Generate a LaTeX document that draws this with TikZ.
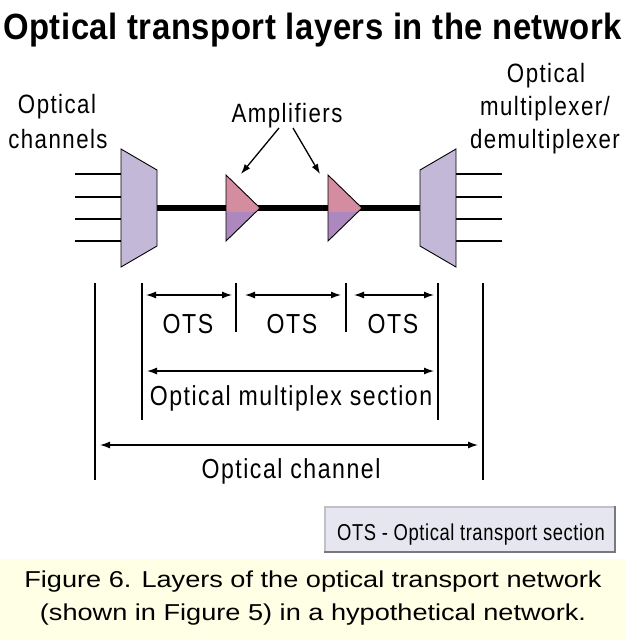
\documentclass[tikz,border=0pt]{standalone}
\usepackage{fontspec}
\setmainfont{Liberation Sans}
\newfontfamily\lblfont[FakeStretch=0.84,LetterSpace=5.5]{Liberation Sans}
\newfontfamily\ttlfont[FakeStretch=0.9,LetterSpace=1.5]{Liberation Sans Bold}
\newfontfamily\legfont[FakeStretch=0.8,LetterSpace=2.5]{Liberation Sans}
\newfontfamily\capfont[FakeStretch=1.18]{Liberation Sans}
\usetikzlibrary{arrows.meta}
\definecolor{muxfill}{RGB}{196,184,216}
\definecolor{amptop}{RGB}{212,140,160}
\definecolor{ampbot}{RGB}{172,136,190}
\definecolor{capbg}{RGB}{255,255,230}
\definecolor{legfill}{RGB}{230,230,240}
\definecolor{legedge}{RGB}{150,150,160}
\begin{document}
\begin{tikzpicture}[x=1pt,y=-1pt,
  lbl/.style={inner sep=0pt, anchor=base, font=\lblfont\fontsize{26.5}{30}\selectfont},
  dimlbl/.style={inner sep=0pt, anchor=base, font=\lblfont\fontsize{27.5}{30}\selectfont},
  ttl/.style={inner sep=0pt, anchor=base, font=\ttlfont\fontsize{36.5}{40}\selectfont},
  caplbl/.style={inner sep=0pt, anchor=base, font=\capfont\fontsize{23}{28}\selectfont},
  leglbl/.style={inner sep=0pt, anchor=base, font=\legfont\fontsize{23}{28}\selectfont},
  wire/.style={line width=2.5pt},
  fiber/.style={line width=6pt},
  tickline/.style={line width=2.5pt},
  dimarrow/.style={line width=1.3pt, {Latex[length=10pt,width=7pt]}-{Latex[length=10pt,width=7pt]}},
  callout/.style={line width=1.3pt, -{Latex[length=10pt,width=7pt]}},
  muxbox/.style={fill=muxfill, draw=black, line width=0.9pt, line join=miter},
  ampedge/.style={draw=black, line width=0.9pt, line join=miter}]
\useasboundingbox (0,0) rectangle (625,640);
\fill[capbg] (0,559) rectangle (625,640);

% title
\node[ttl] (title) at (312.5,39) {Optical transport layers in the network};

% labels
\node[lbl] (ochA) at (57,113) {Optical};
\node[lbl] (ochB) at (58,148) {channels};
\node[lbl] (amps) at (287,122) {Amplifiers};
\node[lbl] (muxA) at (546,82) {Optical};
\node[lbl] (muxB) at (545,115) {multiplexer/};
\node[lbl] (muxC) at (545,148) {demultiplexer};

% fiber
\coordinate (muxLout) at (157,208);
\coordinate (muxRin) at (420,208);
\draw[fiber] (muxLout) -- (muxRin);

% channels in/out
\foreach \i/\yy in {1/174,2/197,3/219,4/241}{
  \coordinate (inS\i) at (75,\yy);
  \coordinate (inE\i) at (121,\yy);
  \coordinate (outS\i) at (456,\yy);
  \coordinate (outE\i) at (502,\yy);
  \draw[wire] (inS\i) -- (inE\i);
  \draw[wire] (outS\i) -- (outE\i);
}

% multiplexers
\draw[muxbox] (121,149) -- (157,170) -- (157,246) -- (121,267) -- cycle;
\draw[muxbox] (420,170) -- (456,149) -- (456,267) -- (420,246) -- cycle;

% amplifiers
\foreach \n/\xx in {1/226,2/328}{
  \fill[amptop] (\xx,175) -- ({\xx+34},208) -- ({\xx+30},212) -- (\xx,212) -- cycle;
  \fill[ampbot] (\xx,212) -- ({\xx+30},212) -- (\xx,241) -- cycle;
  \draw[ampedge] (\xx,175) -- ({\xx+34},208) -- (\xx,241) -- cycle;
}
\coordinate (amp1top) at (241,174);
\coordinate (amp2top) at (320,174);
\coordinate (callL) at (279,128);
\coordinate (callR) at (293,128);
\draw[callout] (callL) -- (amp1top);
\draw[callout] (callR) -- (amp2top);

% boundary ticks
\coordinate (och1t) at (95,283);  \coordinate (och1b) at (95,480);
\coordinate (och2t) at (483,283); \coordinate (och2b) at (483,480);
\coordinate (oms1t) at (142,283); \coordinate (oms1b) at (142,420);
\coordinate (oms2t) at (438,283); \coordinate (oms2b) at (438,420);
\coordinate (ots1t) at (236,283); \coordinate (ots1b) at (236,332);
\coordinate (ots2t) at (346,283); \coordinate (ots2b) at (346,332);
\draw[tickline] (och1t) -- (och1b);
\draw[tickline] (och2t) -- (och2b);
\draw[tickline] (oms1t) -- (oms1b);
\draw[tickline] (oms2t) -- (oms2b);
\draw[tickline] (ots1t) -- (ots1b);
\draw[tickline] (ots2t) -- (ots2b);

% OTS dims
\coordinate (d1a) at (146,295); \coordinate (d1b) at (232,295);
\coordinate (d2a) at (245,295); \coordinate (d2b) at (341,295);
\coordinate (d3a) at (354,295); \coordinate (d3b) at (434,295);
\draw[dimarrow] (d1a) -- (d1b);
\draw[dimarrow] (d2a) -- (d2b);
\draw[dimarrow] (d3a) -- (d3b);
\node[dimlbl] (ots1) at (188,333) {OTS};
\node[dimlbl] (ots2) at (292,333) {OTS};
\node[dimlbl] (ots3) at (393,333) {OTS};

% OMS
\coordinate (ma) at (147,371); \coordinate (mb) at (434,371);
\draw[dimarrow] (ma) -- (mb);
\node[dimlbl] (omslbl) at (291,405) {Optical multiplex section};

% OCh
\coordinate (ca) at (100,445); \coordinate (cb) at (478,445);
\draw[dimarrow] (ca) -- (cb);
\node[dimlbl] (ochlbl) at (291,478) {Optical channel};

% legend
\fill[legfill] (324,506) rectangle (616,553);
\draw[legedge!60, line width=1.5pt] (324.75,552) -- (324.75,506.75) -- (615,506.75);
\draw[legedge!80!black, line width=2pt] (324,552) -- (615,552) -- (615,506);
\node[leglbl] (legend) at (471,540) {OTS - Optical transport section};

% caption
\node[caplbl] (cap1) at (313,587) {Figure 6. Layers of the optical transport network};
\node[caplbl] (cap2) at (313,620) {(shown in Figure 5) in a hypothetical network.};
\end{tikzpicture}
\end{document}
